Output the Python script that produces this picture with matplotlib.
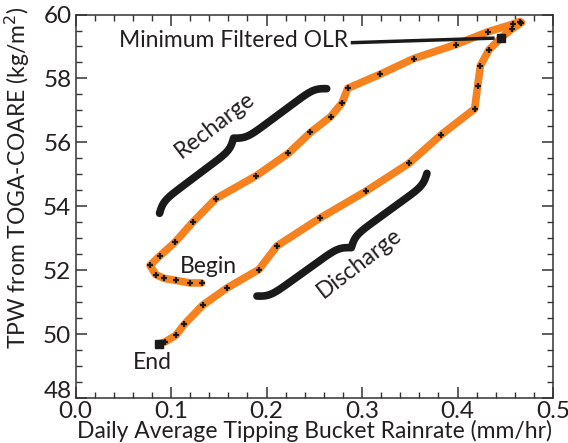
import numpy as np
import matplotlib.pyplot as plt
from matplotlib.ticker import MultipleLocator
from matplotlib.transforms import ScaledTranslation

plt.rcParams['font.family'] = ['Lato', 'DejaVu Sans']

# Daily average rain rate (mm/hr) and TPW (kg/m2), from "Begin" to "End"
rain = [0.132, 0.120, 0.105, 0.093, 0.084, 0.078, 0.088, 0.104, 0.123, 0.147,
        0.189, 0.223, 0.246, 0.267, 0.279, 0.285, 0.319, 0.354, 0.398, 0.432,
        0.458, 0.465, 0.467, 0.457, 0.446, 0.433, 0.424, 0.421, 0.418, 0.383,
        0.349, 0.304, 0.256, 0.211, 0.192, 0.159, 0.133, 0.114, 0.105, 0.094,
        0.087]
tpw = [51.60, 51.60, 51.68, 51.74, 51.86, 52.15, 52.44, 52.87, 53.51, 54.24,
       54.95, 55.66, 56.31, 56.80, 57.23, 57.69, 58.13, 58.62, 59.06, 59.46,
       59.70, 59.78, 59.75, 59.55, 59.28, 58.90, 58.40, 57.75, 57.05, 56.24,
       55.34, 54.47, 53.63, 52.76, 52.02, 51.45, 50.90, 50.31, 49.96, 49.76,
       49.69]
min_olr_idx = 24
end_idx = len(rain) - 1
xticks = [0.0, 0.1, 0.2, 0.3, 0.4, 0.5]
yticks = [48, 50, 52, 54, 56, 58, 60]

fig = plt.figure(figsize=(5.68, 4.43), dpi=100)
ax = fig.add_axes([0.133, 0.1016, 0.8406, 0.8656])

ax.plot(rain, tpw, color="#f5821f", lw=5.5, solid_joinstyle="round",
        solid_capstyle="round", zorder=2)
ax.plot(rain, tpw, ls="none", marker="+", ms=5, mew=1.6, color="#1a1a1a", zorder=3)
sq = [min_olr_idx, end_idx]
ax.plot([rain[i] for i in sq], [tpw[i] for i in sq], ls="none", marker="s",
        ms=5.5, color="#1a1a1a", zorder=4)

ax.set_xlim(0, 0.5)
ax.set_ylim(48, 60)
ax.set_xticks(xticks, [f"{v:.1f}" for v in xticks])
ax.set_yticks(yticks)
ax.xaxis.set_minor_locator(MultipleLocator(0.02))
ax.yaxis.set_minor_locator(MultipleLocator(0.5))
ax.tick_params(which="both", direction="in", top=True, right=True,
               color="#333333", labelsize=17.5, labelcolor="#231f20")
ax.tick_params(which="major", length=8, width=1.1, pad=3)
ax.tick_params(which="minor", length=4, width=1.0)
ax.tick_params(axis="x", which="major", pad=2)
for s in ax.spines.values():
    s.set_linewidth(1.1)
    s.set_color("#333333")

# lift the bottom y label clear of the "0.0" x label
first = ax.yaxis.get_major_ticks()[0].label1
first.set_transform(first.get_transform() + ScaledTranslation(0, 0.08, fig.dpi_scale_trans))

ax.set_xlabel("Daily Average Tipping Bucket Rainrate (mm/hr)", fontsize=16.5,
              color="#231f20", labelpad=-1)
ax.set_ylabel("TPW from TOGA-COARE (kg/m$^2$)", fontsize=16.5, color="#231f20")
ax.yaxis.set_label_coords(-0.092, 0.575)


def brace(p0, p1, amp, k=40, n=300):
    # curly brace between two data points, drawn in pixel space
    a = ax.transData.transform(p0)
    b = ax.transData.transform(p1)
    d = b - a
    L = np.hypot(*d)
    d = d / L
    nrm = np.array([-d[1], d[0]])
    h = np.linspace(0, 0.5, n // 2)
    sig = lambda z: 1 / (1 + np.exp(-z))
    y = sig(k * h) + sig(k * (h - 0.5)) - 0.5
    y = np.concatenate([y, y[::-1]])
    t = np.concatenate([h, h + 0.5])
    pts = a + np.outer(t * L, d) + np.outer(y * amp, nrm)
    xy = ax.transData.inverted().transform(pts)
    ax.plot(xy[:, 0], xy[:, 1], color="#1a1a1a", lw=5.5, solid_capstyle="round",
            zorder=1)


brace((0.088, 53.78), (0.263, 57.68), 16)
brace((0.190, 51.19), (0.368, 55.03), -16)

txt = dict(fontsize=16.5, color="#231f20", ha="center", va="center")
ax.text(0.146, 56.55, "Recharge", rotation=37.5, **txt)
ax.text(0.297, 52.22, "Discharge", rotation=37.5, **txt)
ax.text(0.139, 52.1, "Begin", **txt)
ax.text(0.080, 49.12, "End", **txt)
ax.text(0.165, 59.2, "Minimum Filtered OLR", **txt)
ax.plot([0.290, 0.437], [59.12, 59.26], color="#1a1a1a", lw=2.5, zorder=3)

fig.savefig("out.png", dpi=100)
